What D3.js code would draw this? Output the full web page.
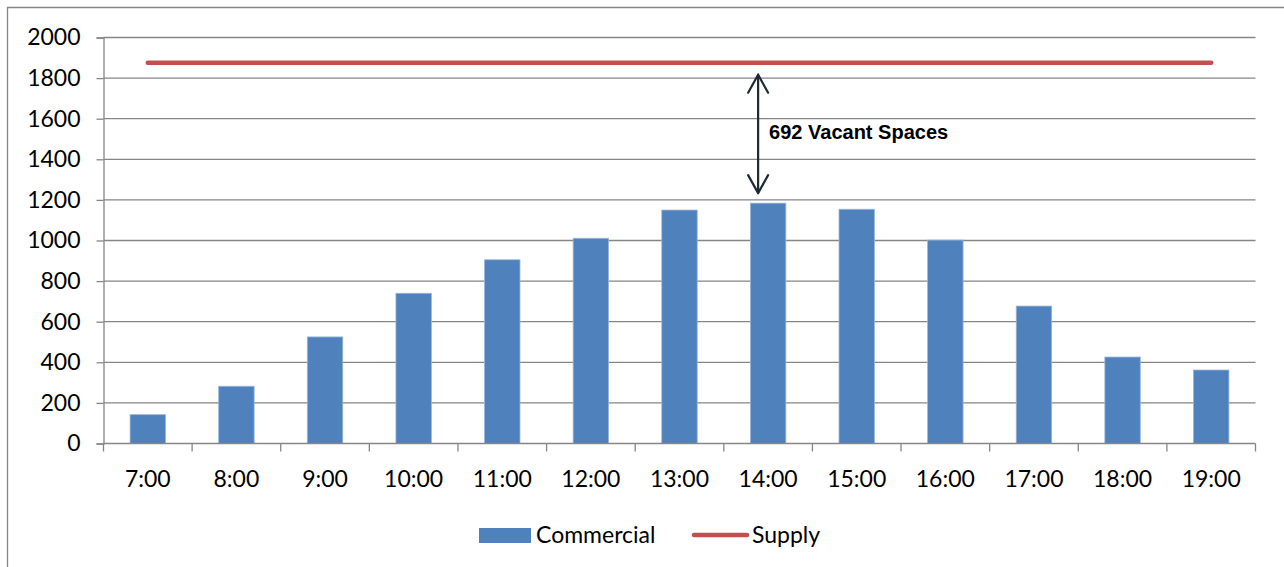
<!DOCTYPE html>
<html>
<head>
<meta charset="utf-8">
<script src="https://cdn.jsdelivr.net/npm/d3@7"></script>
<style>
  html, body { margin: 0; padding: 0; background: #fff; }
  svg { display: block; }
  text { font-family: Lato, "Open Sans", "Noto Sans", sans-serif; fill: #000; }
  text.note { font-family: "Liberation Sans", Arial, sans-serif; font-weight: bold; }
</style>
</head>
<body>
<svg id="chart" width="1284" height="567"></svg>
<script>
// Hourly parking occupancy (commercial) against the total supply
const hours = ["7:00","8:00","9:00","10:00","11:00","12:00","13:00","14:00","15:00","16:00","17:00","18:00","19:00"];
const commercial = [142, 282, 525, 740, 905, 1011, 1150, 1184, 1154, 1002, 677, 426, 362];
const supply = [1876, 1876, 1876, 1876, 1876, 1876, 1876, 1876, 1876, 1876, 1876, 1876, 1876];
const yTicks = [0, 200, 400, 600, 800, 1000, 1200, 1400, 1600, 1800, 2000];

const svg = d3.select("#chart");
const plot = { left: 103.5, right: 1255.5, top: 37.5, bottom: 443.5 };
const gridColor = "#868686";

// outer chart frame (left and top edges visible)
svg.append("path")
  .attr("d", `M7.5,567 V7.5 H1284`)
  .attr("fill", "none").attr("stroke", gridColor).attr("stroke-width", 1.3);

const x = d3.scaleBand().domain(hours).range([plot.left, plot.right]).padding(0);
const y = d3.scaleLinear().domain([0, 2000]).range([plot.bottom, plot.top]);

// horizontal gridlines
svg.append("g").selectAll("line").data(yTicks.filter(t => t > 0)).join("line")
  .attr("x1", plot.left).attr("x2", plot.right)
  .attr("y1", d => y(d)).attr("y2", d => y(d))
  .attr("stroke", gridColor).attr("stroke-width", 1.3);

// y axis
const yAxis = svg.append("g")
  .attr("transform", `translate(${plot.left},0)`)
  .call(d3.axisLeft(y).tickValues(yTicks).tickSize(7).tickPadding(16).tickFormat(d3.format("d")));
yAxis.select(".domain").attr("stroke", gridColor).attr("stroke-width", 1.3);
yAxis.selectAll(".tick line").attr("stroke", gridColor).attr("stroke-width", 1.3);
yAxis.selectAll(".tick text").attr("font-size", 23).attr("font-family", "Lato, sans-serif").attr("fill", "#000");

// bars
const barFrac = 0.4;
svg.append("g").selectAll("rect").data(hours).join("rect")
  .attr("x", (d) => x(d) + x.bandwidth() * (1 - barFrac) / 2)
  .attr("width", x.bandwidth() * barFrac)
  .attr("y", (d, i) => y(commercial[i]))
  .attr("height", (d, i) => y(0) - y(commercial[i]))
  .attr("fill", "#4F81BD")
  .attr("stroke", "#9AB6DA").attr("stroke-width", 0.8);

// x axis with ticks at category boundaries
const xAxisG = svg.append("g").attr("transform", `translate(0,${plot.bottom})`);
xAxisG.append("line")
  .attr("x1", plot.left).attr("x2", plot.right)
  .attr("stroke", gridColor).attr("stroke-width", 1.3);
const bounds = hours.map(h => x(h)).concat([x(hours[hours.length - 1]) + x.bandwidth()]);
xAxisG.selectAll("line.tk").data(bounds).join("line").attr("class", "tk")
  .attr("x1", d => d).attr("x2", d => d).attr("y1", 0).attr("y2", 8)
  .attr("stroke", gridColor).attr("stroke-width", 1.3);
xAxisG.selectAll("text").data(hours).join("text")
  .attr("x", d => x(d) + x.bandwidth() / 2)
  .attr("y", 43)
  .attr("text-anchor", "middle")
  .attr("font-size", 23)
  .text(d => d);

// supply line
const line = d3.line()
  .x((d, i) => x(hours[i]) + x.bandwidth() / 2)
  .y(d => y(d));
svg.append("path").datum(supply)
  .attr("d", line)
  .attr("fill", "none").attr("stroke", "#C0504D").attr("stroke-width", 4.5)
  .attr("stroke-linecap", "round");

// vacancy annotation at the peak hour
const peakIdx = commercial.indexOf(d3.max(commercial));
const vacant = supply[peakIdx] - commercial[peakIdx];
const ax = x(hours[peakIdx]) + x.bandwidth() / 2 - 10;
const aTop = y(supply[peakIdx]) + 12;
const aBot = y(commercial[peakIdx]) - 10;
const arrowColor = "#1E2B33";
const ann = svg.append("g").attr("stroke", arrowColor).attr("stroke-width", 2.2).attr("fill", "none")
  .attr("stroke-linecap", "round").attr("stroke-linejoin", "round");
ann.append("line").attr("x1", ax).attr("x2", ax).attr("y1", aTop).attr("y2", aBot);
ann.append("path").attr("d", `M${ax - 10},${aTop + 18} L${ax},${aTop} L${ax + 10},${aTop + 18}`);
ann.append("path").attr("d", `M${ax - 10},${aBot - 18} L${ax},${aBot} L${ax + 10},${aBot - 18}`);
svg.append("text").attr("class", "note")
  .attr("x", ax + 11).attr("y", 139)
  .style("font-size", "20px")
  .text(`${vacant} Vacant Spaces`);

// legend
const lg = svg.append("g");
lg.append("rect").attr("x", 479).attr("y", 528).attr("width", 52).attr("height", 15).attr("fill", "#4F81BD");
lg.append("text").attr("x", 536).attr("y", 543).attr("font-size", 23).text("Commercial");
lg.append("line").attr("x1", 694).attr("x2", 747).attr("y1", 535).attr("y2", 535)
  .attr("stroke", "#C0504D").attr("stroke-width", 4.5).attr("stroke-linecap", "round");
lg.append("text").attr("x", 752).attr("y", 543).attr("font-size", 23).text("Supply");
</script>
</body>
</html>
